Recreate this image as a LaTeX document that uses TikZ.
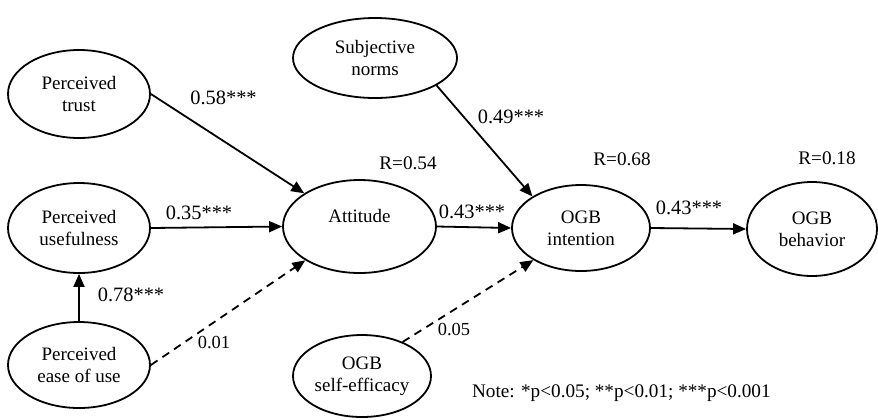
\documentclass[tikz,border=0pt]{standalone}
\usepackage{fontspec}
\setmainfont{Liberation Serif}
\usetikzlibrary{shapes.geometric}
\usetikzlibrary{arrows.meta}

\begin{document}
\begin{tikzpicture}[x=0.5pt, y=-0.5pt,
    every node/.style={font=\fontsize{9.5}{10.8}\selectfont},
    construct/.style={draw, ellipse, line width=0.9pt, inner sep=0pt, align=center},
    coef/.style={font=\fontsize{10.2}{12}\selectfont},
    rsq/.style={font=\fontsize{9.6}{11}\selectfont},
    weak/.style={font=\fontsize{9.2}{11}\selectfont},
    sig/.style={-{Triangle[length=6.5pt, width=5.5pt]}, line width=0.9pt},
    nonsig/.style={sig, dash pattern=on 4pt off 3pt}]
\useasboundingbox (0,0) rectangle (878,419);

% ---------------- Constructs ----------------
\node[construct, minimum width=71pt, minimum height=44pt] (trust) at (79, 94) {Perceived\\trust};
\node[construct, minimum width=71pt, minimum height=45pt] (use) at (79, 228) {Perceived\\usefulness};
\node[construct, minimum width=71pt, minimum height=43pt] (ease) at (79, 365) {Perceived\\ease of use};
\node[construct, minimum width=76.5pt, minimum height=46.5pt] (att) at (359.5, 226.5) {Attitude\\\mbox{}};
\node[construct, minimum width=82pt, minimum height=40pt] (norms) at (375, 58) {Subjective\\norms};
\node[construct, minimum width=69pt, minimum height=43pt] (int) at (581, 228) {OGB\\intention};
\node[construct, minimum width=65pt, minimum height=47pt] (beh) at (812, 229) {OGB\\behavior};
\node[construct, minimum width=69pt, minimum height=41pt] (self) at (362, 376) {OGB\\self-efficacy};

% ---------------- Paths ----------------
\draw[sig] (trust.east) -- (att.149);
\draw[sig] (use.east) -- (att.west);
\draw[nonsig] (ease.east) -- (att.212);
\draw[sig] (ease.north) -- (use.south);
\draw[sig] (att.east) -- (int.west);
\draw[sig] (norms.-24) -- (int.147);
\draw[nonsig] (self.40) -- (int.214);
\draw[sig] (int.east) -- (beh.west);

% ---------------- Coefficients ----------------
\node[coef] (c1) at (223.5, 98) {0.58***};
\node[coef] (c2) at (199, 213) {0.35***};
\node[coef] (c3) at (131, 295) {0.78***};
\node[weak] (c4) at (214, 343) {0.01};
\node[coef] (c5) at (472, 212) {0.43***};
\node[coef] (c6) at (511, 117) {0.49***};
\node[coef] (c7) at (689, 208) {0.43***};
\node[weak] (c8) at (454, 330) {0.05};

% ---------------- R values ----------------
\node[rsq] (r1) at (408, 163) {R=0.54};
\node[rsq] (r2) at (622, 159) {R=0.68};
\node[rsq] (r3) at (827, 158) {R=0.18};

\node[rsq, anchor=west] (note) at (465, 393) {Note: *p<0.05; **p<0.01; ***p<0.001};
\end{tikzpicture}
\end{document}
